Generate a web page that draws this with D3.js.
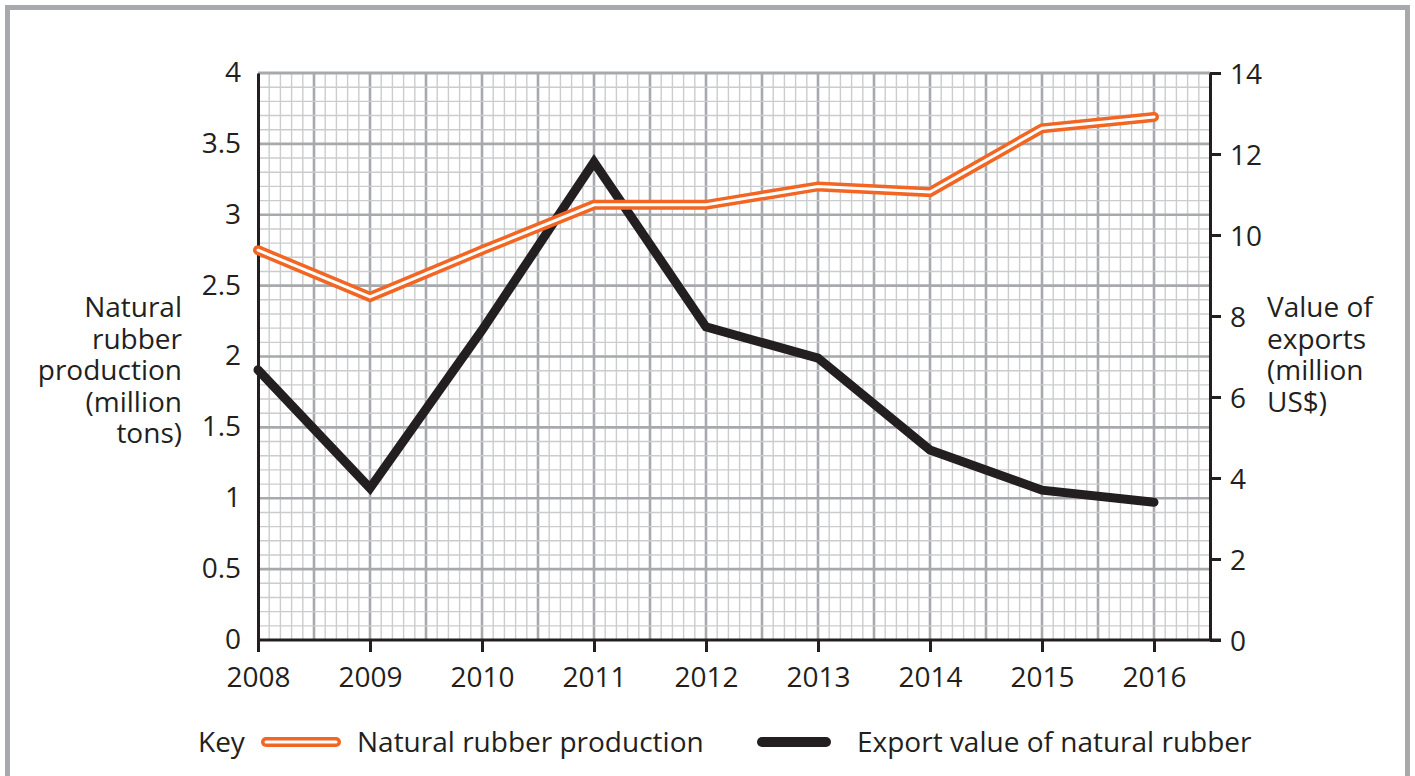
<!DOCTYPE html>
<html>
<head>
<meta charset="utf-8">
<script src="https://cdn.jsdelivr.net/npm/d3@7"></script>
<style>
  body { margin: 0; background: #fff; }
  text { font-family: "Open Sans", "Noto Sans", sans-serif; fill: #231f20; }
</style>
</head>
<body>
<div id="canvas"></div>
<script>
"use strict"

/* Data */
let years = [2008, 2009, 2010, 2011, 2012, 2013, 2014, 2015, 2016];
let production = [2.75, 2.42, 2.75, 3.07, 3.07, 3.2, 3.16, 3.61, 3.69]; // million tons
let exportValue = [6.67, 3.75, 7.65, 11.8, 7.73, 6.96, 4.69, 3.7, 3.4]; // million US$
let leftTicks = [0, 0.5, 1, 1.5, 2, 2.5, 3, 3.5, 4];
let rightTicks = [0, 2, 4, 6, 8, 10, 12, 14];
let leftTitle = ["Natural", "rubber", "production", "(million", "tons)"];
let rightTitle = ["Value of", "exports", "(million", "US$)"];

/* Drawing config */
let svgWidth = 1415;
let svgHeight = 776;
let plotLeft = 258, plotRight = 1210, plotTop = 73, plotBottom = 640;
let ink = "#231f20";
let orange = "#f26522";
let fontSize = "28px";

let svg = d3.select("#canvas")
    .append("svg")
    .attr("width", svgWidth)
    .attr("height", svgHeight);

/* page frame */
svg.append("rect")
    .attr("x", 7.5)
    .attr("y", 7.5)
    .attr("width", 1400)
    .attr("height", 820)
    .attr("fill", "none")
    .attr("stroke", "#a7a9ac")
    .attr("stroke-width", 5);

let xScale = d3.scaleLinear()
    .domain([2008, 2016.5])
    .range([plotLeft, plotRight]);

let yLeft = d3.scaleLinear()
    .domain([0, 4])
    .range([plotBottom, plotTop]);

let yRight = d3.scaleLinear()
    .domain([0, 14])
    .range([plotBottom, plotTop]);

/* graph paper grid: thin every 0.1, thick every 0.5 */
let grid = svg.append("g");
let xMinor = d3.range(1, 85).map(i => 2008 + i / 10);
let yMinor = d3.range(1, 40).map(i => i / 10);

grid.selectAll(".vx")
    .data(xMinor)
    .join("line")
    .attr("x1", d => xScale(d))
    .attr("x2", d => xScale(d))
    .attr("y1", plotTop)
    .attr("y2", plotBottom)
    .attr("stroke", (d, i) => (i + 1) % 5 == 0 ? "#a7a9ac" : "#cbcccd")
    .attr("stroke-width", (d, i) => (i + 1) % 5 == 0 ? 2.6 : 1.4);

grid.selectAll(".hy")
    .data(yMinor)
    .join("line")
    .attr("x1", plotLeft)
    .attr("x2", plotRight)
    .attr("y1", d => yLeft(d))
    .attr("y2", d => yLeft(d))
    .attr("stroke", (d, i) => (i + 1) % 5 == 0 ? "#a7a9ac" : "#cbcccd")
    .attr("stroke-width", (d, i) => (i + 1) % 5 == 0 ? 2.6 : 1.4);

// top edge of the paper
grid.append("line")
    .attr("x1", plotLeft)
    .attr("x2", plotRight)
    .attr("y1", plotTop)
    .attr("y2", plotTop)
    .attr("stroke", "#a7a9ac")
    .attr("stroke-width", 3);

/* axes */
let xAxis = svg.append("g")
    .attr("transform", `translate(0,${plotBottom})`)
    .call(d3.axisBottom(xScale).tickValues(years).tickFormat(d3.format("d")).tickSize(12).tickSizeOuter(0).tickPadding(15));

let leftAxis = svg.append("g")
    .attr("transform", `translate(${plotLeft},0)`)
    .call(d3.axisLeft(yLeft).tickValues(leftTicks).tickFormat(d => d).tickSize(0).tickSizeOuter(0).tickPadding(17));

let rightAxis = svg.append("g")
    .attr("transform", `translate(${plotRight},0)`)
    .call(d3.axisRight(yRight).tickValues(rightTicks).tickSize(11).tickSizeOuter(0).tickPadding(9));

[xAxis, leftAxis, rightAxis].forEach(function (ax) {
    ax.select(".domain").attr("stroke", ink).attr("stroke-width", 3);
    ax.selectAll(".tick line").attr("stroke", ink).attr("stroke-width", 3);
    ax.selectAll(".tick text")
        .attr("fill", ink)
        .style("font-size", fontSize)
        .style("font-family", "'Open Sans', 'Noto Sans', sans-serif");
});
xAxis.selectAll(".tick text").attr("dy", "0.71em");
leftAxis.selectAll(".tick text").attr("dy", "0.3em");
rightAxis.selectAll(".tick text").attr("dy", "0.36em");

// bottom axis runs on to the right axis tick
xAxis.select(".domain").attr("d", `M${plotLeft},0H${plotRight + 11}`);

/* axis titles, one text per line */
svg.selectAll(".left-title")
    .data(leftTitle)
    .join("text")
    .attr("class", "left-title")
    .attr("text-anchor", "end")
    .style("font-size", fontSize)
    .attr("x", 182)
    .attr("y", (d, i) => 317 + i * 31.5)
    .text(d => d);

svg.selectAll(".right-title")
    .data(rightTitle)
    .join("text")
    .attr("class", "right-title")
    .attr("text-anchor", "start")
    .style("font-size", fontSize)
    .attr("x", 1267)
    .attr("y", (d, i) => 317 + i * 31.5)
    .text(d => d);

/* lines */
let exportLine = d3.line()
    .x((d, i) => xScale(years[i]))
    .y(d => yRight(d));

let prodLine = d3.line()
    .x((d, i) => xScale(years[i]))
    .y(d => yLeft(d));

svg.append("path")
    .attr("d", exportLine(exportValue))
    .attr("fill", "none")
    .attr("stroke", ink)
    .attr("stroke-width", 9)
    .attr("stroke-linejoin", "miter")
    .attr("stroke-linecap", "round");

svg.append("path")
    .attr("d", prodLine(production))
    .attr("fill", "none")
    .attr("stroke", orange)
    .attr("stroke-width", 10)
    .attr("stroke-linecap", "round");

svg.append("path")
    .attr("d", prodLine(production))
    .attr("fill", "none")
    .attr("stroke", "#fff")
    .attr("stroke-width", 3)
    .attr("stroke-linecap", "round");

/* key */
let keyY = 742;
svg.append("text")
    .attr("x", 198)
    .attr("y", keyY + 10)
    .style("font-size", fontSize)
    .text("Key");

svg.append("line")
    .attr("x1", 266).attr("x2", 336)
    .attr("y1", keyY).attr("y2", keyY)
    .attr("stroke", orange)
    .attr("stroke-width", 10)
    .attr("stroke-linecap", "round");

svg.append("line")
    .attr("x1", 266).attr("x2", 336)
    .attr("y1", keyY).attr("y2", keyY)
    .attr("stroke", "#fff")
    .attr("stroke-width", 3)
    .attr("stroke-linecap", "round");

svg.append("text")
    .attr("x", 357)
    .attr("y", keyY + 10)
    .style("font-size", fontSize)
    .text("Natural rubber production");

svg.append("line")
    .attr("x1", 762).attr("x2", 826)
    .attr("y1", keyY).attr("y2", keyY)
    .attr("stroke", ink)
    .attr("stroke-width", 10)
    .attr("stroke-linecap", "round");

svg.append("text")
    .attr("x", 857)
    .attr("y", keyY + 10)
    .style("font-size", fontSize)
    .text("Export value of natural rubber");
</script>
</body>
</html>
